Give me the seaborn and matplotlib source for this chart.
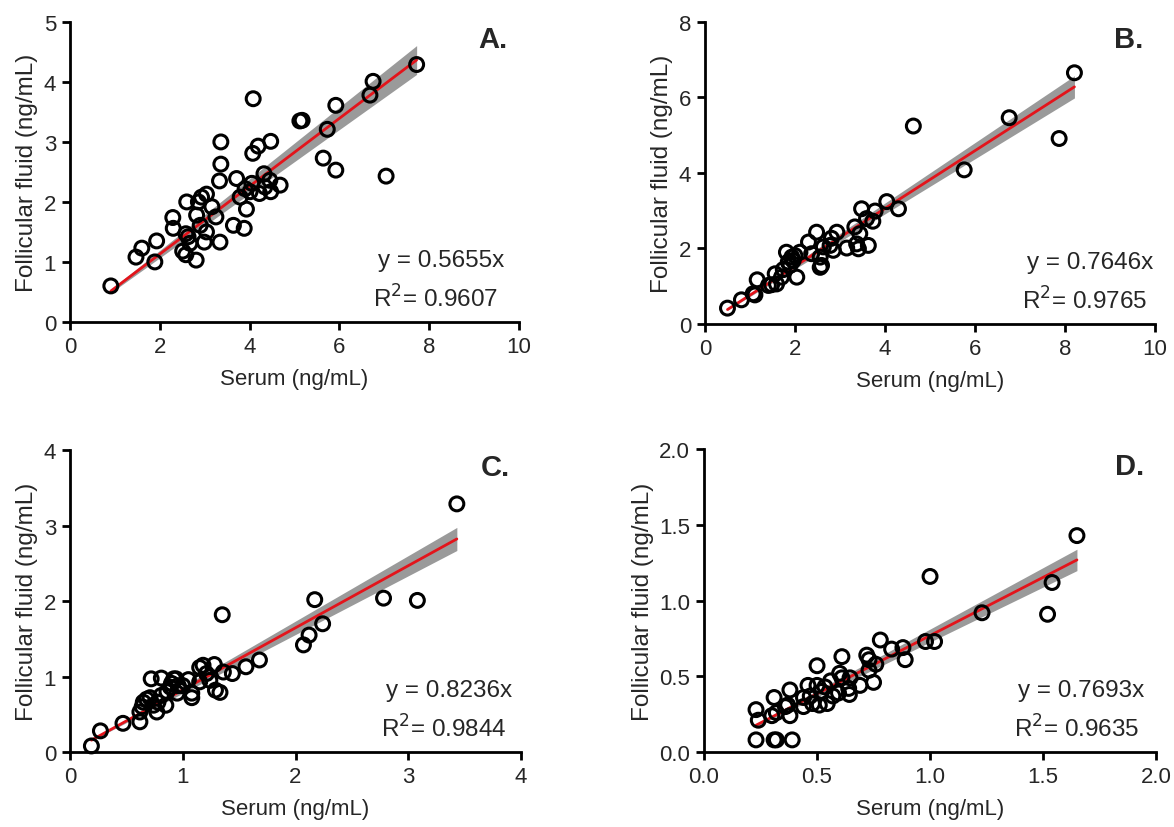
import numpy as np
import matplotlib
matplotlib.use("Agg")
from matplotlib import pyplot as plt
import seaborn as sns

# panel A
a_serum = [0.91, 1.47, 1.60, 1.93, 1.89, 2.29, 2.30, 2.51, 2.58, 2.60, 2.58, 2.63, 2.67, 2.81,
           2.82, 2.86, 2.90, 2.93, 3.04, 2.99, 3.04, 3.16, 3.25, 3.34, 3.36, 3.36, 3.33, 3.64,
           3.88, 3.71, 3.79, 3.93, 3.90, 4.05, 4.08, 4.07, 4.19, 4.22, 4.32, 4.34, 4.45, 4.47,
           4.47, 4.68, 5.12, 5.17, 5.64, 5.73, 5.92, 5.92, 6.68, 6.75, 7.04, 7.72, 4.01]
a_ff = [0.60, 1.08, 1.23, 1.35, 1.00, 1.74, 1.56, 1.18, 1.12, 2.00, 1.47, 1.42, 1.31, 1.03,
        1.78, 2.00, 1.61, 2.08, 2.13, 1.33, 1.50, 1.92, 1.75, 1.33, 3.00, 2.63, 2.35, 1.61,
        1.56, 2.39, 2.08, 1.88, 2.22, 2.31, 3.72, 2.81, 2.93, 2.14, 2.47, 2.25, 2.36, 2.17,
        3.01, 2.28, 3.35, 3.36, 2.73, 3.21, 3.61, 2.53, 3.78, 4.01, 2.43, 4.29, 2.17]

# panel B
b_serum = [0.50, 0.81, 1.07, 1.11, 1.16, 1.41, 1.48, 1.56, 1.59, 1.70, 1.74, 1.81, 1.85, 1.89,
           1.93, 1.96, 2.00, 2.04, 2.11, 2.30, 2.37, 2.48, 2.56, 2.56, 2.59, 2.63, 2.78, 2.81,
           2.85, 2.93, 3.15, 3.33, 3.37, 3.41, 3.44, 3.48, 3.63, 3.59, 3.73, 3.78, 4.04, 4.30,
           4.63, 5.76, 6.76, 7.87, 8.21]
b_ff = [0.42, 0.64, 0.80, 0.77, 1.17, 1.02, 1.04, 1.33, 1.06, 1.24, 1.44, 1.90, 1.64, 1.55,
        1.77, 1.68, 1.81, 1.24, 1.90, 2.17, 1.86, 2.43, 1.77, 1.50, 1.55, 2.04, 2.08, 2.27,
        1.95, 2.43, 2.01, 2.57, 2.12, 1.99, 2.39, 3.05, 2.08, 2.79, 2.72, 2.99, 3.24, 3.05,
        5.24, 4.08, 5.46, 4.91, 6.65]

# panel C
c_serum = [0.19, 0.27, 0.47, 0.62, 0.62, 0.64, 0.65, 0.68, 0.71, 0.72, 0.74, 0.77, 0.78, 0.81,
           0.81, 0.85, 0.86, 0.89, 0.90, 0.92, 0.94, 0.95, 0.96, 1.00, 1.05, 1.08, 1.08, 1.15,
           1.15, 1.18, 1.21, 1.24, 1.28, 1.29, 1.33, 1.35, 1.36, 1.44, 1.56, 1.68, 2.07, 2.12,
           2.17, 2.24, 2.78, 3.08, 3.43]
c_ff = [0.08, 0.28, 0.38, 0.40, 0.53, 0.60, 0.66, 0.70, 0.72, 0.97, 0.62, 0.53, 0.66, 0.98,
        0.75, 0.62, 0.80, 0.86, 0.91, 0.97, 0.97, 0.78, 0.88, 0.88, 0.96, 0.72, 0.78, 0.93,
        1.12, 1.15, 1.04, 0.95, 1.16, 0.82, 0.79, 1.82, 1.06, 1.04, 1.13, 1.22, 1.42, 1.55,
        2.02, 1.70, 2.04, 2.01, 3.29]

# panel D
d_serum = [0.23, 0.31, 0.32, 0.39, 0.23, 0.24, 0.31, 0.30, 0.32, 0.36, 0.37, 0.38, 0.38, 0.44,
           0.44, 0.46, 0.47, 0.48, 0.50, 0.50, 0.51, 0.52, 0.535, 0.545, 0.56, 0.57, 0.595,
           0.60, 0.61, 0.61, 0.64, 0.643, 0.646, 0.69, 0.72, 0.73, 0.73, 0.75, 0.76, 0.78,
           0.83, 0.88, 0.89, 0.98, 1.00, 1.02, 1.23, 1.52, 1.54, 1.65]
d_ff = [0.08, 0.08, 0.08, 0.08, 0.28, 0.21, 0.36, 0.24, 0.26, 0.30, 0.31, 0.24, 0.41, 0.30,
        0.36, 0.44, 0.37, 0.32, 0.57, 0.44, 0.31, 0.40, 0.43, 0.32, 0.47, 0.37, 0.39,
        0.52, 0.63, 0.49, 0.42, 0.38, 0.49, 0.44, 0.64, 0.61, 0.54, 0.46, 0.58, 0.74,
        0.68, 0.69, 0.61, 0.73, 1.16, 0.73, 0.92, 0.91, 1.12, 1.43]

panels = ["A.", "B.", "C.", "D."]
slopes = [0.5655, 0.7646, 0.8236, 0.7693]
r2 = ["0.9607", "0.9765", "0.9844", "0.9635"]
x_max = [10, 10, 4, 2.0]
y_max = [5, 8, 4, 2.0]
x_ticks = [[0, 2, 4, 6, 8, 10], [0, 2, 4, 6, 8, 10], [0, 1, 2, 3, 4], [0.0, 0.5, 1.0, 1.5, 2.0]]
y_ticks = [[0, 1, 2, 3, 4, 5], [0, 2, 4, 6, 8], [0, 1, 2, 3, 4], [0.0, 0.5, 1.0, 1.5, 2.0]]

data = [(a_serum, a_ff), (b_serum, b_ff), (c_serum, c_ff), (d_serum, d_ff)]

sns.set_style("ticks")
plt.rcParams['font.family'] = ['Liberation Sans', 'DejaVu Sans']

fig = plt.figure(figsize=(11.74, 8.28), dpi=100)
boxes = [[0.0596, 0.610, 0.3825, 0.3623],
         [0.6005, 0.6075, 0.3833, 0.3650],
         [0.0596, 0.0906, 0.3843, 0.3643],
         [0.5997, 0.0906, 0.3850, 0.3655]]
# where the equation text starts (axes fraction)
eq_x = [0.685, 0.715, 0.70, 0.695]

for i, (xs, ys) in enumerate(data):
    ax = fig.add_axes(boxes[i])
    x = np.array(xs)
    y = np.array(ys)
    b = slopes[i]

    # band from a zero-intercept fit
    resid = y - b * x
    se = np.sqrt(np.sum(resid ** 2) / (len(x) - 1) / np.sum(x ** 2))
    xx = np.linspace(x.min(), x.max(), 100)
    ax.fill_between(xx, xx * (b - 1.96 * se), xx * (b + 1.96 * se),
                    color="#9a9a9a", lw=0, zorder=1)
    sns.lineplot(x=xx, y=b * xx, color="#e3141b", lw=2, ax=ax, zorder=2)
    sns.scatterplot(x=x, y=y, ax=ax, s=100, facecolor="none",
                    edgecolor="black", linewidth=2.2, zorder=3)

    ax.set_xlim(0, x_max[i])
    ax.set_ylim(0, y_max[i])
    ax.set_xticks(x_ticks[i])
    ax.set_yticks(y_ticks[i])
    if i == 3:
        ax.set_xticklabels(["0.0", "0.5", "1.0", "1.5", "2.0"])
        ax.set_yticklabels(["0.0", "0.5", "1.0", "1.5", "2.0"])
    ax.tick_params(labelsize=16, width=2, length=6, pad=4, color="black")
    for s in ["left", "bottom"]:
        ax.spines[s].set_linewidth(2)
        ax.spines[s].set_color("black")
    sns.despine(ax=ax)
    for c in ax.collections:
        c.set_clip_on(False)

    ax.set_xlabel("Serum (ng/mL)", fontsize=16, labelpad=8)
    ax.set_ylabel("Follicular fluid (ng/mL)", fontsize=17.5, labelpad=4)

    ax.text(0.975, 0.99, panels[i], transform=ax.transAxes, ha="right", va="top",
            fontsize=21, fontweight="bold")
    ax.text(eq_x[i], 0.205, "y = %.4fx" % b, transform=ax.transAxes, ha="left",
            va="center", fontsize=17.5)
    ax.text(eq_x[i] - 0.01, 0.08, "R$^2$= " + r2[i], transform=ax.transAxes, ha="left",
            va="center", fontsize=17.5)

fig.savefig("out.png", dpi=100)
